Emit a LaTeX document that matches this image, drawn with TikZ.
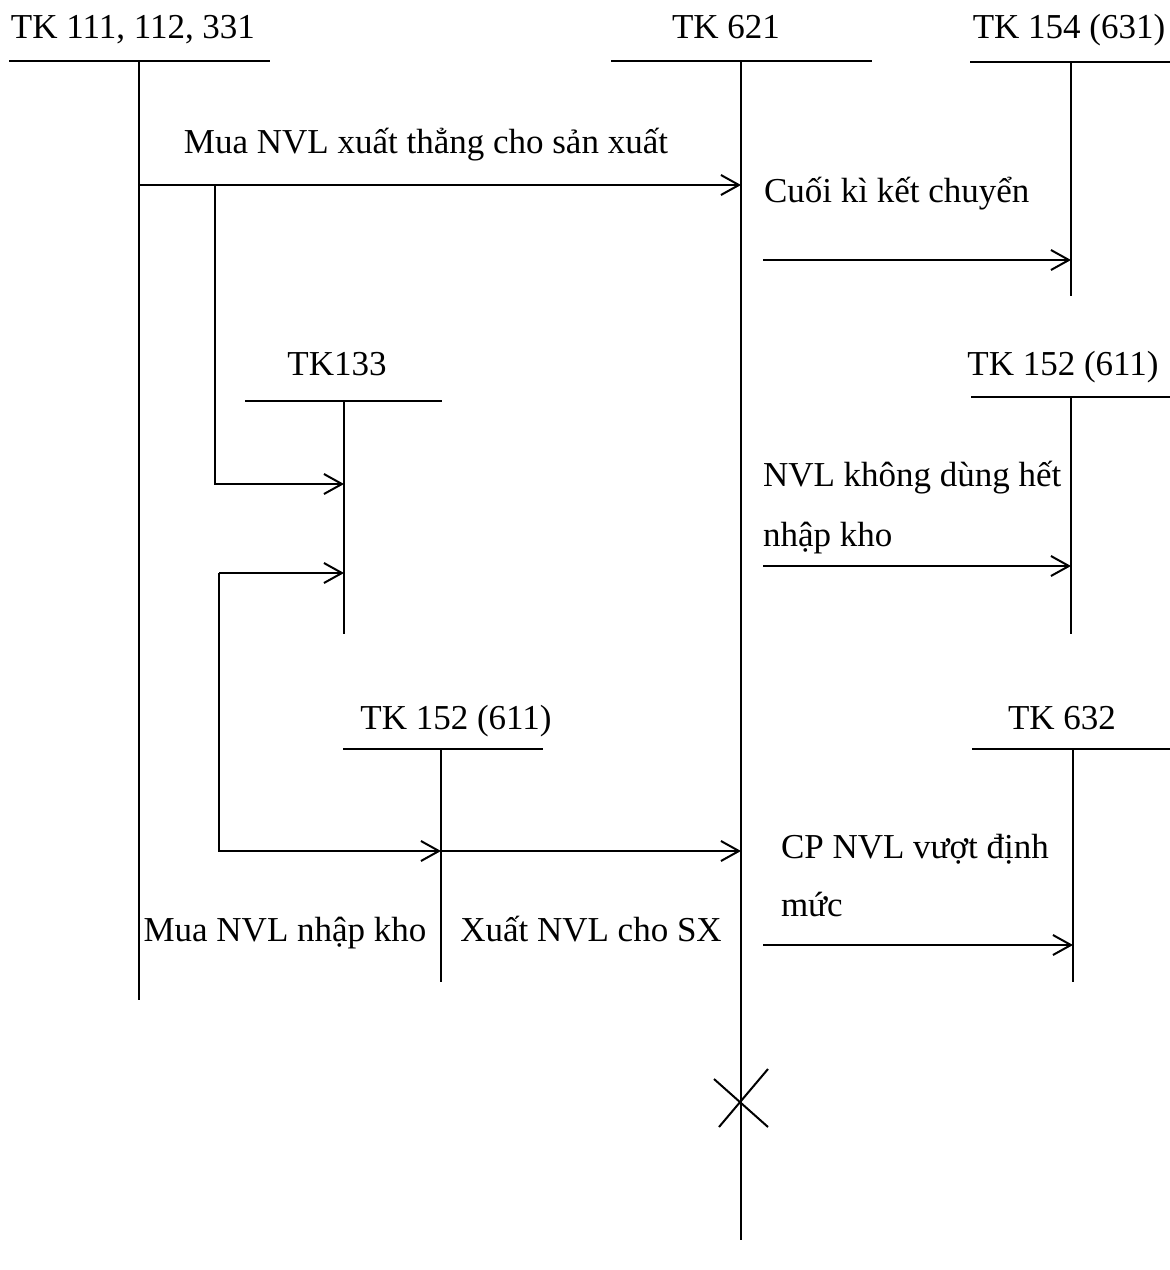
\documentclass[tikz,border=0pt]{standalone}
\usepackage{fontspec}
\setmainfont{Liberation Serif}
\usetikzlibrary{arrows.meta}
\newcommand{\lblfont}{\fontsize{17.5}{21}\selectfont}
\begin{document}
\begin{tikzpicture}[x=0.5pt,y=-0.5pt,line width=1pt,
  lbl/.style={font=\lblfont,inner sep=0pt,anchor=base},
  lbll/.style={font=\lblfont,inner sep=0pt,anchor=base west},
  arr/.style={-{Straight Barb[length=9pt,width=10pt,line width=1pt]}},
  acct/.style={line width=1pt}]
\useasboundingbox (0,0) rectangle (1170,1270);
% account labels
\node[lbl] (t111) at (133,38) {TK 111, 112, 331};
\node[lbl] (t621) at (726,38) {TK 621};
\node[lbl] (t154) at (1069,38) {TK 154 (631)};
\node[lbl] (t133) at (337,375) {TK133};
\node[lbl] (t152r) at (1063,375) {TK 152 (611)};
\node[lbl] (t152m) at (456,729) {TK 152 (611)};
\node[lbl] (t632) at (1062,729) {TK 632};
% T accounts
\coordinate (a111) at (139,61);
\draw[acct] (9,61) -- (270,61);
\draw[acct] (a111) -- (139,1000) coordinate (a111e);
\coordinate (a621) at (741,61);
\draw[acct] (611,61) -- (872,61);
\draw[acct] (a621) -- (741,1240) coordinate (a621e);
\coordinate (a154) at (1071,62);
\draw[acct] (970,62) -- (1170,62);
\draw[acct] (a154) -- (1071,296);
\coordinate (a133) at (344,401);
\draw[acct] (245,401) -- (442,401);
\draw[acct] (a133) -- (344,634);
\coordinate (a152r) at (1071,397);
\draw[acct] (971,397) -- (1170,397);
\draw[acct] (a152r) -- (1071,634);
\coordinate (a152m) at (441,749);
\draw[acct] (343,749) -- (543,749);
\draw[acct] (a152m) -- (441,982);
\coordinate (a632) at (1073,749);
\draw[acct] (972,749) -- (1170,749);
\draw[acct] (a632) -- (1073,982);
% connectors
\coordinate (p1s) at (139,185);
\coordinate (p1e) at (741,185);
\draw[arr] (p1s) -- (p1e);
\coordinate (p2s) at (215,185);
\coordinate (p2e) at (344,484);
\draw[arr] (p2s) |- (p2e);
\coordinate (p3s) at (219,573);
\coordinate (p3e) at (344,573);
\draw[arr] (p3s) -- (p3e);
\coordinate (p4e) at (441,851);
\draw[arr] (p3s) |- (p4e);
\coordinate (p5e) at (741,851);
\draw[arr] (p4e) -- (p5e);
\coordinate (p6s) at (763,260);
\coordinate (p6e) at (1071,260);
\draw[arr] (p6s) -- (p6e);
\coordinate (p7s) at (763,566);
\coordinate (p7e) at (1071,566);
\draw[arr] (p7s) -- (p7e);
\coordinate (p8s) at (763,945);
\coordinate (p8e) at (1073,945);
\draw[arr] (p8s) -- (p8e);
% X mark
\coordinate (xm) at (741,1100);
\draw (714,1079) -- (768,1127);
\draw (768,1069) -- (719,1127);
% texts
\node[lbl] (l1) at (426,153) {Mua NVL xuất thẳng cho sản xuất};
\node[lbll] (l2) at (763,202) {Cuối kì kết chuyển};
\node[lbll] (l3) at (762,486) {NVL không dùng hết};
\node[lbll] (l4) at (762,546) {nhập kho};
\node[lbll] (l5) at (780,858) {CP NVL vượt định};
\node[lbll] (l6) at (780,916) {mức};
\node[lbl] (l7) at (285,941) {Mua NVL nhập kho};
\node[lbl] (l8) at (591,941) {Xuất NVL cho SX};
\end{tikzpicture}
\end{document}
